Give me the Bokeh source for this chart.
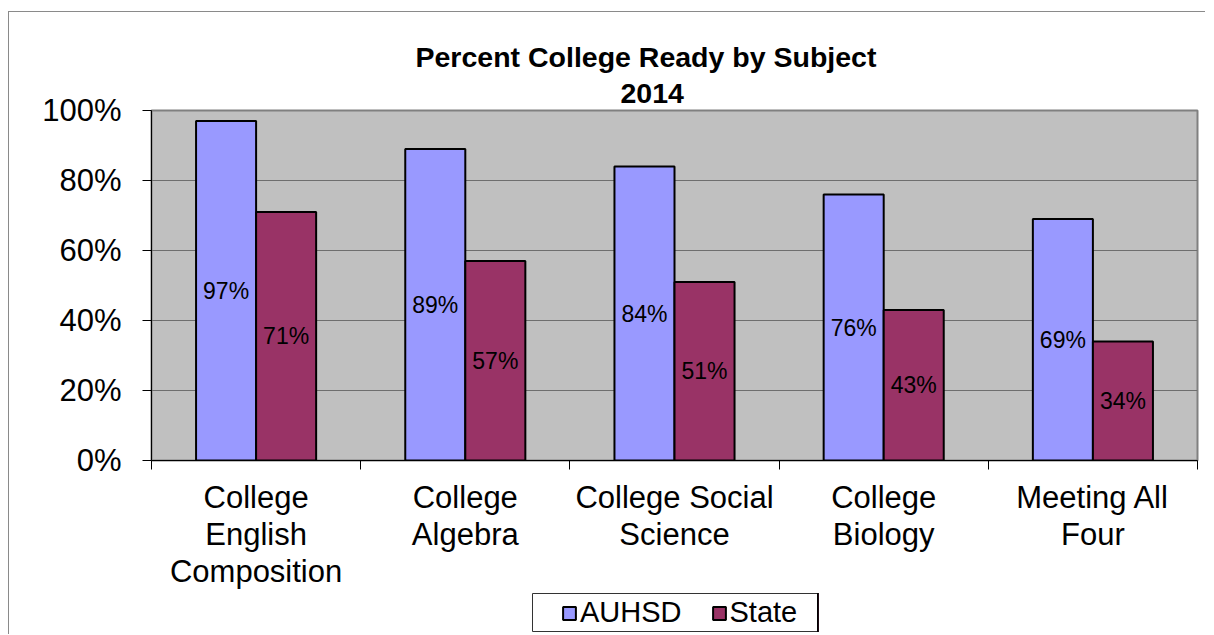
from bokeh.plotting import figure
from bokeh.models import (ColumnDataSource, Range1d, FixedTicker, PrintfTickFormatter,
                          Title, Legend, LegendItem)
from bokeh.transform import dodge
from bokeh.core.properties import value
from bokeh.embed import file_html
from bokeh.resources import INLINE

# ---- data ----
categories = ["College\nEnglish\nComposition", "College\nAlgebra",
              "College Social\nScience", "College\nBiology", "Meeting All\nFour"]
auhsd = [97, 89, 84, 76, 69]
state = [71, 57, 51, 43, 34]
series_names = ["AUHSD", "State"]
series_colors = ["#9999FF", "#993366"]
y_ticks = [0, 20, 40, 60, 80, 100]
title_line1 = "Percent College Ready by Subject"
title_line2 = "2014"

FONT = "Liberation Sans"
positions = [i + 0.5 for i in range(len(categories))]
bounds = list(range(len(categories) + 1))

src = ColumnDataSource(dict(
    x=positions,
    auhsd=auhsd,
    state=state,
    auhsd_mid=[v / 2 for v in auhsd],
    state_mid=[v / 2 for v in state],
    auhsd_lbl=[f"{v}%" for v in auhsd],
    state_lbl=[f"{v}%" for v in state],
))

p = figure(width=1197, height=580, output_backend="svg", toolbar_location=None,
           title=None, x_range=Range1d(0, len(categories)), y_range=Range1d(0, 100),
           min_border_left=142, min_border_right=9, min_border_top=98,
           min_border_bottom=130)
p.styles = {"border-left": "1px solid #8a8a8a", "border-top": "1px solid #8a8a8a",
            "margin-top": "11px", "margin-left": "8px"}

p.background_fill_color = "#C0C0C0"
p.border_fill_color = "white"
p.outline_line_color = "#808080"
p.outline_line_width = 2

bw = 0.287
r1 = p.vbar(x=dodge("x", -bw / 2), top="auhsd", width=bw, source=src,
            fill_color=series_colors[0], line_color="black", line_width=2)
r2 = p.vbar(x=dodge("x", bw / 2), top="state", width=bw, source=src,
            fill_color=series_colors[1], line_color="black", line_width=2)

p.text(x=dodge("x", -bw / 2), y="auhsd_mid", text="auhsd_lbl", source=src,
       text_align="center", text_baseline="middle", text_font=value(FONT),
       text_font_size="23px", text_color="black")
p.text(x=dodge("x", bw / 2), y="state_mid", text="state_lbl", source=src,
       text_align="center", text_baseline="middle", text_font=value(FONT),
       text_font_size="23px", text_color="black")

# y axis
p.yaxis.ticker = FixedTicker(ticks=y_ticks)
p.yaxis.formatter = PrintfTickFormatter(format="%d%%")
p.yaxis.major_tick_out = 9
p.yaxis.major_tick_in = 0
p.yaxis.minor_tick_line_color = None
p.yaxis.axis_line_color = "black"
p.yaxis.major_tick_line_color = "black"
p.yaxis.major_label_text_font = FONT
p.yaxis.major_label_text_font_size = "31px"
p.yaxis.major_label_text_color = "black"
p.yaxis.major_label_standoff = 21

# x axis
p.xaxis.ticker = FixedTicker(ticks=positions, minor_ticks=bounds)
p.xaxis.major_label_overrides = {pos: cat for pos, cat in zip(positions, categories)}
p.xaxis.major_tick_out = 0
p.xaxis.major_tick_in = 0
p.xaxis.major_tick_line_color = None
p.xaxis.minor_tick_out = 9
p.xaxis.minor_tick_in = 0
p.xaxis.minor_tick_line_color = "black"
p.xaxis.axis_line_color = "black"
p.xaxis.major_label_text_font = FONT
p.xaxis.major_label_text_font_size = "31px"
p.xaxis.major_label_text_line_height = 1.07
p.xaxis.major_label_text_color = "black"
p.xaxis.major_label_standoff = 10

p.xgrid.grid_line_color = None
p.ygrid.ticker = FixedTicker(ticks=y_ticks)
p.ygrid.grid_line_color = "#6e6e6e"
p.ygrid.grid_line_width = 1

# titles
t2 = Title(text=title_line2, align="left", offset=469, text_font=FONT,
           text_font_size="28.5px", text_font_style="bold", text_color="black",
           standoff=16)
t1 = Title(text=title_line1, align="left", offset=264, text_font=FONT,
           text_font_size="28.5px", text_font_style="bold", text_color="black",
           standoff=1)
p.add_layout(t2, "above")
p.add_layout(t1, "above")

# legend: a strip below the chart whose frame is the legend box
lg = figure(width=1197, height=43, output_backend="svg", toolbar_location=None,
            title=None, x_range=Range1d(-10, -9), y_range=Range1d(0, 1),
            min_border_left=523, min_border_right=388, min_border_top=2,
            min_border_bottom=3)
lg.styles = {"border-left": "1px solid #8a8a8a", "margin-left": "8px"}
lg.axis.visible = False
lg.grid.grid_line_color = None
lg.background_fill_color = "white"
lg.border_fill_color = "white"
lg.outline_line_color = "#333333"
lg.outline_line_width = 1
# renderers used only for the legend swatches (x range keeps them off view)
lr1 = lg.vbar(x="x", top="auhsd", width=bw, source=src, fill_color=series_colors[0],
              line_color="black", line_width=2)
lr2 = lg.vbar(x="x", top="state", width=bw, source=src, fill_color=series_colors[1],
              line_color="black", line_width=2)
legend = Legend(items=[LegendItem(label=series_names[0], renderers=[lr1]),
                       LegendItem(label=series_names[1], renderers=[lr2])],
                orientation="horizontal", location=(29, 2), margin=0,
                padding=0, spacing=29, label_standoff=3,
                glyph_width=16, glyph_height=16,
                label_text_font=FONT, label_text_font_size="29px",
                label_text_color="black",
                border_line_color=None, background_fill_alpha=0)
lg.add_layout(legend, "center")

open("out.html", "w").write(file_html([p, lg], INLINE))
